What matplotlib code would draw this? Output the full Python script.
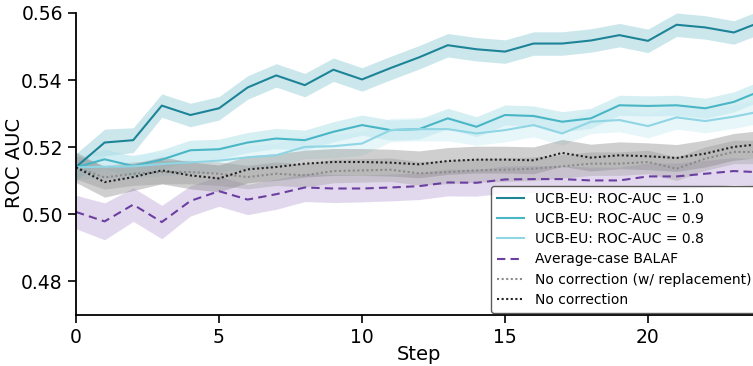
import numpy as np
import matplotlib
matplotlib.use("Agg")
import matplotlib.pyplot as plt

steps = list(range(25))

ucb10 = [0.5141, 0.5214, 0.5221, 0.5324, 0.5296, 0.5316, 0.5378, 0.5414, 0.5385, 0.5431,
         0.5402, 0.5436, 0.5468, 0.5504, 0.5492, 0.5485, 0.5509, 0.5509, 0.5518, 0.5534,
         0.5517, 0.5565, 0.5557, 0.5542, 0.5575]
ucb10_ci = [0.004, 0.004, 0.0037, 0.0035, 0.0035, 0.0035, 0.0035, 0.0035, 0.0035, 0.0035,
            0.0035, 0.0035, 0.0035, 0.0035, 0.0035, 0.0035, 0.0035, 0.0035, 0.0035, 0.0035,
            0.0035, 0.0035, 0.0035, 0.0035, 0.0035]

ucb09 = [0.5140, 0.5164, 0.5144, 0.5163, 0.5191, 0.5194, 0.5214, 0.5226, 0.5221, 0.5246,
         0.5266, 0.5251, 0.5254, 0.5286, 0.5261, 0.5296, 0.5293, 0.5276, 0.5286, 0.5325,
         0.5323, 0.5325, 0.5316, 0.5335, 0.5370]
ucb09_ci = [0.003] * 25

ucb08 = [0.5140, 0.5142, 0.5143, 0.5150, 0.5155, 0.5160, 0.5170, 0.5176, 0.5201, 0.5203,
         0.5211, 0.5251, 0.5254, 0.5254, 0.5241, 0.5251, 0.5266, 0.5241, 0.5276, 0.5281,
         0.5263, 0.5289, 0.5278, 0.5291, 0.5308]
ucb08_ci = [0.0035] * 25

balaf = [0.5007, 0.4979, 0.5029, 0.4977, 0.5040, 0.5069, 0.5044, 0.5060, 0.5080, 0.5077,
         0.5077, 0.5080, 0.5084, 0.5095, 0.5094, 0.5104, 0.5105, 0.5105, 0.5101, 0.5101,
         0.5113, 0.5113, 0.5121, 0.5129, 0.5125]
balaf_ci = [0.005, 0.0055, 0.005, 0.005, 0.0045, 0.0045, 0.0045, 0.0045, 0.0042, 0.0042,
            0.004, 0.004, 0.004, 0.004, 0.004, 0.004, 0.004, 0.004, 0.004, 0.004,
            0.004, 0.004, 0.004, 0.004, 0.004]

norepl = [0.5140, 0.5110, 0.5121, 0.5126, 0.5126, 0.5121, 0.5111, 0.5121, 0.5116, 0.5129,
          0.5131, 0.5133, 0.5122, 0.5126, 0.5131, 0.5133, 0.5136, 0.5143, 0.5151, 0.5151,
          0.5156, 0.5136, 0.5166, 0.5186, 0.5186]
norepl_ci = [0.0035] * 25

nocorr = [0.5140, 0.5096, 0.5111, 0.5131, 0.5116, 0.5107, 0.5134, 0.5141, 0.5151, 0.5156,
          0.5156, 0.5154, 0.5149, 0.5159, 0.5163, 0.5163, 0.5161, 0.5183, 0.5169, 0.5176,
          0.5173, 0.5168, 0.5181, 0.5201, 0.5210]
nocorr_ci = [0.0045, 0.0045, 0.004, 0.004, 0.004, 0.004, 0.004, 0.004, 0.004, 0.004,
             0.004, 0.004, 0.004, 0.004, 0.004, 0.004, 0.004, 0.004, 0.004, 0.004,
             0.004, 0.004, 0.004, 0.004, 0.004]

labels = ["UCB-EU: ROC-AUC = 1.0", "UCB-EU: ROC-AUC = 0.9", "UCB-EU: ROC-AUC = 0.8",
          "Average-case BALAF", "No correction (w/ replacement)", "No correction"]

xticks = [0, 5, 10, 15, 20]
yticks = [0.48, 0.50, 0.52, 0.54, 0.56]

plt.rcParams['font.family'] = ['DejaVu Sans']

W, H = 753, 366
fig = plt.figure(figsize=(W / 100, H / 100), dpi=100)
ax_left, ax_bottom, ax_w, ax_h = 76, 315, 686.4, 302
ax = fig.add_axes([ax_left / W, 1 - ax_bottom / H, ax_w / W, ax_h / H])

series = [
    (ucb10, ucb10_ci, "#1d8498", "#8fcbd6", 0.45, "-", 1.5),
    (ucb09, ucb09_ci, "#49b6c6", "#a6dde6", 0.45, "-", 1.5),
    (ucb08, ucb08_ci, "#8fd5e4", "#c9ecf3", 0.45, "-", 1.5),
    (balaf, balaf_ci, "#6b3fa0", "#c7b3dc", 0.5, (0, (4, 2.5)), 1.5),
    (norepl, norepl_ci, "#8a8a8a", "#999999", 0.35, (0, (1, 1.2)), 1.5),
    (nocorr, nocorr_ci, "#222222", "#888888", 0.4, (0, (1, 1.2)), 1.5),
]

x = np.array(steps)
handles = []
for (m, ci, lc, fc, fa, ls, lw), lab in zip(series, labels):
    m = np.array(m)
    ci = np.array(ci)
    ax.fill_between(x, m - ci, m + ci, color=fc, alpha=fa, linewidth=0)
    h, = ax.plot(x, m, color=lc, linestyle=ls, linewidth=lw, label=lab)
    handles.append(h)

ax.set_xlim(0, 24)
ax.set_ylim(0.47, 0.56)
ax.set_xticks(xticks)
ax.set_yticks(yticks)
ax.set_yticklabels([f"{v:.2f}" for v in yticks])
ax.tick_params(labelsize=13.5, length=6, width=1.2)
for s in ["top", "right"]:
    ax.spines[s].set_visible(False)
for s in ["left", "bottom"]:
    ax.spines[s].set_linewidth(1.3)
ax.set_xlabel("Step", fontsize=14)
ax.set_ylabel("ROC AUC", fontsize=14)
# label positions (axes fraction)
ax.xaxis.set_label_coords((419 - ax_left) / ax_w, (ax_bottom - 345) / ax_h)
ax.yaxis.set_label_coords((24 - ax_left) / ax_w, (ax_bottom - 163) / ax_h)

leg = fig.legend(handles=handles, loc="lower left",
                 bbox_to_anchor=(491 / W, (H - 312.5) / H),
                 fontsize=10, frameon=True, borderaxespad=0,
                 labelspacing=0.45, fancybox=True)
leg.get_frame().set_edgecolor("#333333")
leg.get_frame().set_linewidth(1.0)

fig.savefig("out.png", dpi=100)
